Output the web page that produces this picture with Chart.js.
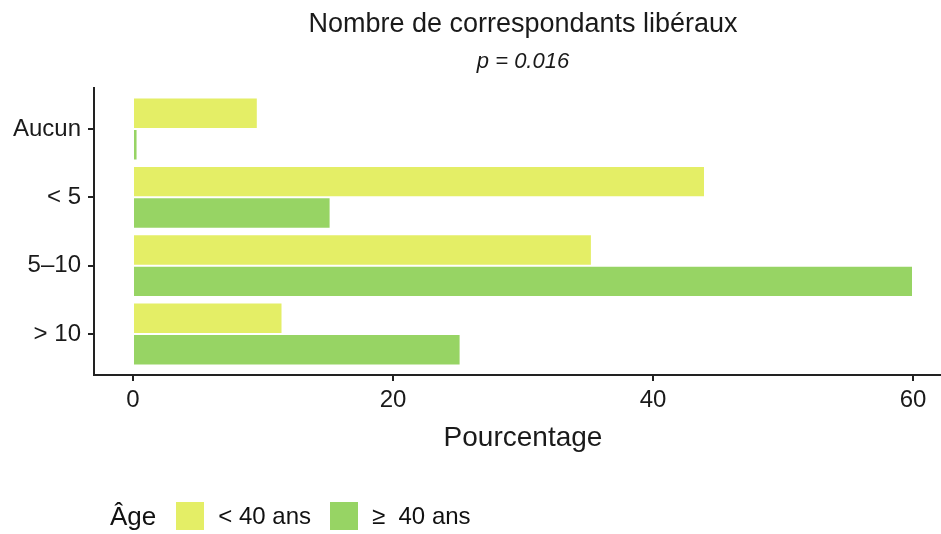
<!DOCTYPE html>
<html>
<head>
<meta charset="utf-8">
<script src="https://cdn.jsdelivr.net/npm/chart.js@4/dist/chart.umd.min.js"></script>
<style>
  body { margin: 0; background: #fff; font-family: "Liberation Sans", Arial, sans-serif; }
  #frame { position: relative; width: 941px; height: 534px; overflow: hidden; }
  #box { position: absolute; left: 0; top: 0; width: 960px; height: 534px; }
  #legend { position: absolute; left: 110px; top: 502px; height: 28px; display: flex; align-items: center; color: #111; }
  #legend .head { font-size: 26px; margin-right: 20px; }
  #legend .sw { width: 28px; height: 28px; margin-right: 14px; }
  #legend .lab { font-size: 24px; margin-right: 19px; }
</style>
</head>
<body>
<div id="frame">
  <div id="box"><canvas id="chart"></canvas></div>
  <div id="legend"><span class="head">Âge</span></div>
</div>
<script>
// groups, top to bottom
var categories = ['Aucun', '< 5', '5\u201310', '> 10'];
var seriesNames = ['< 40 ans', '\u2265\u00a0 40 ans'];
var under40 = [9.6, 44.0, 35.3, 11.5];
var over40 = [0.35, 15.2, 60.0, 25.2];
var xTicks = [0, 20, 40, 60];
var colors = ['#e4ee66', '#97d464'];

var ink = '#1a1a1a';
var fontName = '"Liberation Sans", Arial, sans-serif';

function toPoints(vals) {
  return vals.map(function (v, i) { return { x: v, y: i + 1 }; });
}

var chart = new Chart(document.getElementById('chart'), {
  type: 'bar',
  data: {
    datasets: [
      { label: seriesNames[0], data: toPoints(under40), backgroundColor: colors[0] },
      { label: seriesNames[1], data: toPoints(over40), backgroundColor: colors[1] }
    ]
  },
  options: {
    indexAxis: 'y',
    responsive: true,
    maintainAspectRatio: false,
    animation: false,
    layout: { padding: { left: 0, right: 8, top: 0, bottom: 79 } },
    datasets: {
      bar: {
        categoryPercentage: 0.92,
        barPercentage: 1,
        borderColor: 'rgba(255,255,255,0.85)',
        borderWidth: 1
      }
    },
    scales: {
      x: {
        type: 'linear',
        min: -3,
        max: 63,
        afterBuildTicks: function (s) { s.ticks = xTicks.map(function (v) { return { value: v }; }); },
        afterFit: function (s) { s.height = 80; },
        grid: { drawOnChartArea: false, drawTicks: true, tickLength: 6, color: '#222', lineWidth: 2 },
        border: { display: true, color: '#222', width: 2 },
        ticks: { color: ink, padding: 5, font: { family: fontName, size: 24 } },
        title: { display: true, text: 'Pourcentage', color: ink, padding: { top: 0, bottom: 0 },
                 font: { family: fontName, size: 28 } }
      },
      y: {
        type: 'linear',
        reverse: true,
        offset: false,
        min: 0.4,
        max: 4.6,
        afterBuildTicks: function (s) { s.ticks = categories.map(function (c, i) { return { value: i + 1 }; }); },
        afterFit: function (s) { s.width = 94; },
        grid: { offset: false, drawOnChartArea: false, drawTicks: true, tickLength: 6, color: '#222', lineWidth: 2 },
        border: { display: true, color: '#222', width: 2 },
        ticks: {
          color: ink, padding: 7, font: { family: fontName, size: 24 },
          callback: function (v) { return categories[v - 1]; }
        }
      }
    },
    plugins: {
      legend: { display: false },
      tooltip: { enabled: false },
      title: {
        display: true, fullSize: false,
        text: 'Nombre de correspondants libéraux',
        color: ink, padding: { top: 8, bottom: 0 },
        font: { family: fontName, size: 27, weight: 'normal' }
      },
      subtitle: {
        display: true, fullSize: false,
        text: 'p = 0.016',
        color: ink, padding: { top: 8, bottom: 13.2 },
        font: { family: fontName, size: 22, style: 'italic' }
      }
    }
  }
});

// legend built from the datasets
var legend = document.getElementById('legend');
chart.data.datasets.forEach(function (ds) {
  var sw = document.createElement('span');
  sw.className = 'sw';
  sw.style.background = ds.backgroundColor;
  var lab = document.createElement('span');
  lab.className = 'lab';
  lab.textContent = ds.label;
  legend.appendChild(sw);
  legend.appendChild(lab);
});
</script>
</body>
</html>
